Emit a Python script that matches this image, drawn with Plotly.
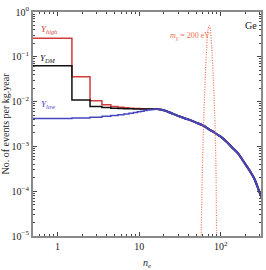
import plotly.graph_objects as go

# ---- data ----
ne_bins = [1, 2, 3, 4, 5, 6, 7, 8, 9, 10, 11, 12, 13, 14, 15, 16]
y_high = [0.26, 0.036, 0.0104, 0.0085, 0.0078, 0.0075, 0.0073, 0.0071, 0.0070,
          0.0070, 0.0069, 0.0069, 0.0068, 0.0068, 0.0068, 0.0068]
y_dm = [0.063, 0.0109, 0.0078, 0.0074, 0.0071, 0.0070, 0.0069, 0.0069, 0.0068,
        0.0068, 0.0068, 0.0068, 0.0068, 0.0068, 0.0068, 0.0068]
y_low = [0.0042, 0.0043, 0.0045, 0.0047, 0.0049, 0.0051, 0.0053, 0.0055, 0.0057,
         0.0059, 0.0061, 0.0063, 0.0065, 0.0066, 0.0067, 0.0068]

ne_tail = [16.5, 20, 25, 30, 40, 50, 61.5, 72, 85, 100, 120, 136, 165, 197, 230, 262, 290, 316]
y_tail = [0.0068, 0.0064, 0.0055, 0.0048, 0.0040, 0.0034, 0.0029, 0.0024, 0.0020,
          0.00165, 0.00123, 0.00097, 0.00068, 0.00042, 0.000275, 0.00018, 0.00011, 0.000073]

ne_peak = [57.5, 59.3, 61.5, 64.5, 67.4, 69.5, 72.5, 75, 77.5, 81.3, 85.4, 87.8, 89]
y_peak = [8e-6, 2.1e-4, 2.6e-3, 0.032, 0.17, 0.39, 0.50, 0.39, 0.17, 0.032, 2.6e-3, 2.1e-4, 8e-6]

y_tickvals = [1e-5, 1e-4, 1e-3, 1e-2, 1e-1, 1]
y_ticktext = ["10<sup>−5</sup>", "10<sup>−4</sup>", "10<sup>−3</sup>", "10<sup>−2</sup>",
              "10<sup>−1</sup>", "10<sup>0</sup>"]
x_tickvals = [1, 10, 100]
x_ticktext = ["1", "10", "10<sup>2</sup>"]

RED = "#d23c3c"
BLACK = "#111111"
BLUE = "#4646c0"
ORANGE = "#f07050"
FONT = "Liberation Serif"


def step_xy(centers, vals):
    xs = [c - 0.5 for c in centers] + [centers[-1] + 0.5]
    ys = list(vals) + [vals[-1]]
    return xs, ys


fig = go.Figure()
for vals, col in [(y_high, RED), (y_dm, BLACK), (y_low, BLUE)]:
    xs, ys = step_xy(ne_bins, vals)
    fig.add_trace(go.Scatter(x=xs, y=ys, mode="lines", line=dict(color=col, width=1.5, shape="hv"),
                             showlegend=False, hoverinfo="skip"))
for col in [RED, BLACK, BLUE]:
    fig.add_trace(go.Scatter(x=ne_tail, y=y_tail, mode="lines",
                             line=dict(color=col, width=2, shape="spline", smoothing=0.6),
                             showlegend=False, hoverinfo="skip"))
fig.add_trace(go.Scatter(x=ne_peak, y=y_peak, mode="lines",
                         line=dict(color=ORANGE, width=1.2, dash="1px,1.5px", shape="spline", smoothing=0.5),
                         showlegend=False, hoverinfo="skip"))

x_minor = [0.6, 0.7, 0.8, 0.9] + list(range(2, 10)) + list(range(20, 100, 10)) + [200, 300]
y_minor = [m * 10 ** e for e in range(-5, 0) for m in range(2, 10)]

axis_common = dict(type="log", showline=True, linecolor="#8a8a8a", linewidth=2, mirror="ticks",
                   ticks="inside", ticklen=4, tickwidth=1, tickcolor="#444", showgrid=False,
                   zeroline=False, tickfont=dict(family=FONT, size=10, color="#222"))

fig.update_xaxes(range=[-0.301, 2.494], tickvals=x_tickvals, ticktext=x_ticktext,
                 minor=dict(tickvals=x_minor, ticks="inside", ticklen=2, tickcolor="#444", showgrid=False),
                 title=dict(text="<i>n<sub>e</sub></i>", font=dict(family=FONT, size=10, color="#222"), standoff=8),
                 **axis_common)
fig.update_yaxes(range=[-5, 0], tickvals=y_tickvals, ticktext=y_ticktext,
                 minor=dict(tickvals=y_minor, ticks="inside", ticklen=2, tickcolor="#444", showgrid=False),
                 title=dict(text="No. of events per kg.year", font=dict(family=FONT, size=10, color="#222"), standoff=2),
                 **axis_common)

ann = [
    ("<i>Y</i><sub><i>high</i></sub>", 0.07, 0.92, RED, 9),
    ("<i>Y</i><sub><i>DM</i></sub>", 0.065, 0.793, BLACK, 9),
    ("<i>Y</i><sub><i>low</i></sub>", 0.07, 0.585, BLUE, 9),
    ("<i>m</i><sub>χ</sub> = 200 eV", 0.687, 0.893, ORANGE, 8),
    ("Ge", 0.957, 0.94, BLACK, 10),
]
for t, x, y, c, s in ann:
    fig.add_annotation(text=t, x=x, y=y, xref="paper", yref="paper", showarrow=False,
                       font=dict(family=FONT, size=s, color=c), xanchor="center", yanchor="middle")

fig.update_layout(width=266, height=270, margin=dict(l=33, r=3, t=12, b=28),
                  paper_bgcolor="white", plot_bgcolor="white", showlegend=False)

fig.write_html("out.html", config={"displayModeBar": False, "staticPlot": True},
               post_script="document.body.style.margin='0';document.body.style.overflow='hidden';")
